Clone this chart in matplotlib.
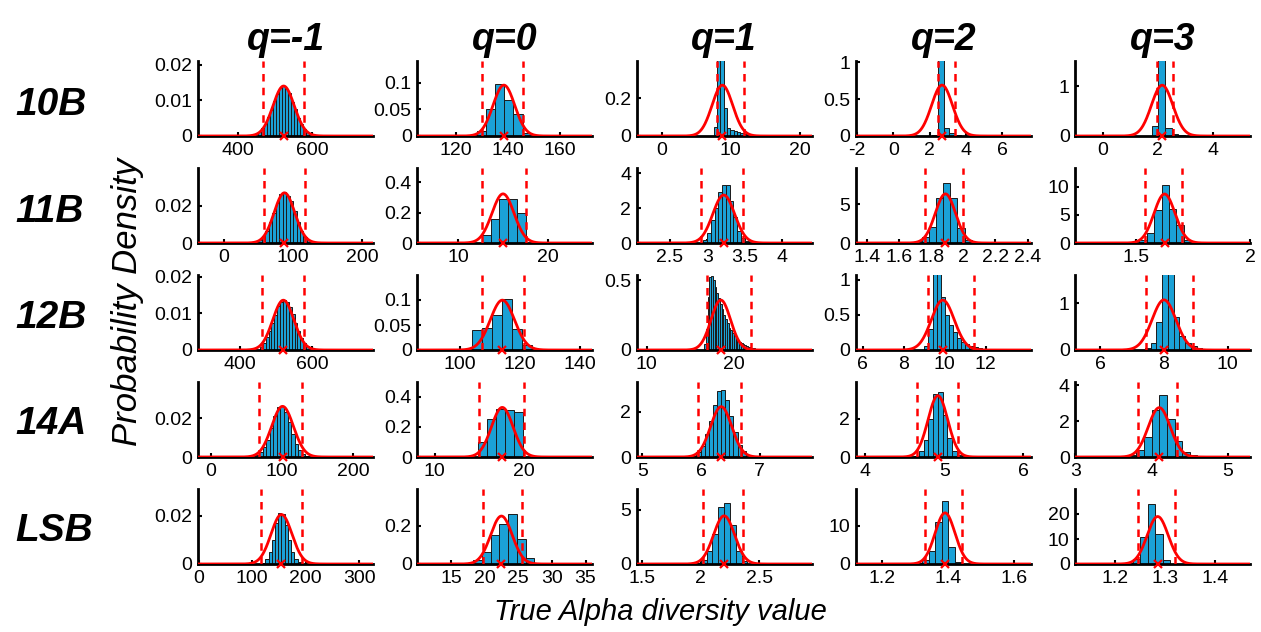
import numpy as np
import matplotlib
matplotlib.use("Agg")
import matplotlib.pyplot as plt

plt.rcParams['font.family'] = ['Liberation Sans', 'DejaVu Sans']

samples = ["10B", "11B", "12B", "14A", "LSB"]
orders = ["q=-1", "q=0", "q=1", "q=2", "q=3"]

# axis limits and ticks, one row per sample, one entry per q
xlims = [
    [(293, 763), (105, 172.5), (-3.6, 21.7), (-2.07, 7.6), (-1.0, 5.36)],
    [(-37.5, 215.6), (5.4, 25), (2.06, 4.39), (1.333, 2.42), (1.234, 2.0)],
    [(283, 769), (86, 144), (8.86, 28.9), (5.66, 14.2), (5.22, 10.7)],
    [(-17.7, 228), (8.07, 27.7), (4.9, 7.88), (3.88, 6.1), (3.0, 5.29)],
    [(-1, 326), (10, 36), (1.45, 2.95), (1.12, 1.65), (1.12, 1.47)],
]
xticks = [
    [[400, 600], [120, 140, 160], [0, 10, 20], [-2, 0, 2, 4, 6], [0, 2, 4]],
    [[0, 100, 200], [10, 20], [2.5, 3, 3.5, 4], [1.4, 1.6, 1.8, 2, 2.2, 2.4], [1.5, 2]],
    [[400, 600], [100, 120, 140], [10, 20], [6, 8, 10, 12], [6, 8, 10]],
    [[0, 100, 200], [10, 20], [5, 6, 7], [4, 5, 6], [3, 4, 5]],
    [[0, 100, 200, 300], [15, 20, 25, 30, 35], [1.5, 2, 2.5], [1.2, 1.4, 1.6], [1.2, 1.3, 1.4]],
]
ytops = [
    [0.021, 0.141, 0.395, 1.02, 1.51],
    [0.040, 0.493, 4.3, 9.7, 13.3],
    [0.0205, 0.15, 0.536, 1.07, 1.6],
    [0.0386, 0.496, 3.3, 3.9, 4.18],
    [0.031, 0.39, 6.9, 19.5, 30],
]
yticks = [
    [[0, 0.01, 0.02], [0, 0.05, 0.1], [0, 0.2], [0, 0.5, 1], [0, 1]],
    [[0, 0.02], [0, 0.2, 0.4], [0, 2, 4], [0, 5], [0, 5, 10]],
    [[0, 0.01, 0.02], [0, 0.05, 0.1], [0, 0.5], [0, 0.5, 1], [0, 1]],
    [[0, 0.02], [0, 0.2, 0.4], [0, 2], [0, 2], [0, 2, 4]],
    [[0, 0.02], [0, 0.2], [0, 5], [0, 10], [0, 10, 20]],
]

# fitted normal (mean, sd) and the 95% interval lines
means = [
    [523, 138.4, 8.8, 2.69, 2.16],
    [87.5, 15.0, 3.22, 1.889, 1.625],
    [520, 114.2, 18.5, 9.9, 8.0],
    [101, 17.6, 6.34, 4.92, 4.1],
    [155, 22.5, 2.2, 1.39, 1.285],
]
sds = [
    [28.5, 4.17, 1.49, 0.576, 0.39],
    [14.9, 1.235, 0.145, 0.0628, 0.0459],
    [29.3, 4.0, 1.117, 0.56, 0.373],
    [15.3, 1.216, 0.18, 0.125, 0.145],
    [19.5, 1.6, 0.09, 0.03, 0.021],
]
ci_lo = [
    [467, 129.8, 8.0, 2.47, 1.97],
    [58, 12.6, 2.92, 1.764, 1.538],
    [460, 107.3, 16.9, 9.2, 7.44],
    [68, 14.95, 5.95, 4.66, 3.82],
    [117, 19.7, 2.02, 1.33, 1.245],
]
ci_hi = [
    [579, 145.9, 11.9, 3.38, 2.57],
    [117, 17.6, 3.47, 2.0, 1.703],
    [578, 121.4, 22.0, 11.4, 8.9],
    [129, 20.0, 6.67, 5.17, 4.33],
    [193, 25.5, 2.36, 1.44, 1.32],
]

# histograms: first bin edge, bin width, density of each bin
bin_start = [
    [455, 127.9, 7.55, 2.16, 1.78],
    [45, 12.6, 2.95, 1.70, 1.515],
    [455, 104.2, 16.6, 9.0, 7.4],
    [63, 14.9, 5.85, 4.62, 3.7],
    [119, 18.3, 1.95, 1.3, 1.22],
]
bin_width = [
    [8, 3.55, 0.48, 0.31, 0.24],
    [5, 1.0, 0.05, 0.044, 0.0324],
    [8, 3.3, 0.2, 0.2, 0.18],
    [5, 1.0, 0.07, 0.06, 0.1],
    [6, 1.3, 0.05, 0.02, 0.015],
]
dens = [
    [
        [0.0010, 0.0022, 0.0033, 0.0054, 0.0073, 0.0099, 0.0118, 0.0134, 0.0139, 0.0133,
         0.0121, 0.0096, 0.0077, 0.0051, 0.0035, 0.0019, 0.0012, 0.0005, 0.0003],
        [0.01, 0.05, 0.097, 0.068, 0.041, 0.005],
        [0.05, 0.6, 0.6, 0.15, 0.04, 0.03, 0.025, 0.02, 0.015, 0.01, 0.005],
        [0.02, 1.2, 0.11, 0.04, 0.01, 0.005],
        [0.2, 2.0, 0.17, 0.05, 0.02],
    ],
    [
        [0.0007, 0.0017, 0.0036, 0.0063, 0.0110, 0.0158, 0.0212, 0.0262, 0.0270, 0.0250,
         0.0225, 0.0170, 0.0112, 0.0066, 0.0034, 0.0016, 0.0007, 0.0003],
        [0.05, 0.16, 0.29, 0.29, 0.195],
        [0.2, 0.6, 1.3, 2.0, 2.9, 3.35, 3.3, 2.4, 1.5, 0.7, 0.3, 0.1],
        [0.3, 0.8, 2.1, 5.8, 7.7, 5.8, 1.9, 0.35],
        [0.6, 1.8, 5.8, 10.3, 6.0, 3.2, 0.5],
    ],
    [
        [0.0009, 0.0020, 0.0035, 0.0052, 0.0075, 0.0097, 0.0120, 0.0131, 0.0137, 0.0132,
         0.0118, 0.0099, 0.0074, 0.0053, 0.0034, 0.0020, 0.0011, 0.0005, 0.0002],
        [0.04, 0.045, 0.07, 0.103, 0.043, 0.01],
        [0.04, 0.15, 0.38, 0.52, 0.53, 0.5, 0.45, 0.41, 0.37, 0.33, 0.29, 0.25, 0.22, 0.19,
         0.16, 0.14, 0.12, 0.1, 0.085, 0.07, 0.06, 0.05, 0.04, 0.035, 0.03, 0.025, 0.02,
         0.015, 0.012, 0.01, 0.008],
        [0.05, 0.3, 1.2, 1.2, 0.75, 0.5, 0.35, 0.25, 0.17, 0.12, 0.08, 0.06, 0.04, 0.03, 0.02],
        [0.05, 0.15, 0.6, 1.7, 1.7, 0.7, 0.3, 0.15, 0.08, 0.05, 0.03],
    ],
    [
        [0.0010, 0.0025, 0.0050, 0.0090, 0.0150, 0.0210, 0.0255, 0.0262, 0.0230, 0.0178,
         0.0118, 0.0068, 0.0034, 0.0015, 0.0006],
        [0.1, 0.25, 0.32, 0.31, 0.3],
        [0.05, 0.2, 0.5, 1.0, 1.6, 2.3, 2.9, 2.95, 2.5, 1.8, 1.1, 0.55, 0.25, 0.08],
        [0.05, 0.3, 0.9, 2.0, 3.3, 3.4, 2.2, 1.0, 0.3, 0.08],
        [0.1, 0.4, 1.1, 2.6, 3.45, 2.1, 0.9, 0.3, 0.1],
    ],
    [
        [0.0005, 0.0020, 0.0050, 0.0100, 0.0170, 0.0210, 0.0205, 0.0160, 0.0100, 0.0050,
         0.0020, 0.0007],
        [0.02, 0.06, 0.15, 0.21, 0.26, 0.13, 0.03],
        [0.1, 0.4, 1.2, 2.8, 5.2, 5.6, 3.6, 1.2, 0.3],
        [0.3, 1.0, 3.5, 11.0, 16.5, 4.5, 0.5],
        [0.5, 2.0, 11.0, 24.0, 12.0, 1.5],
    ],
]

bar_color = '#1ba1d6'

fig = plt.figure(figsize=(12.61, 6.32), dpi=100)
W, H = 1261.0, 632.0

for r in range(5):
    for c in range(5):
        left = 198 + c * 219.3
        base = 136 + r * 107
        ax = fig.add_axes([left / W, (H - base) / H, 175 / W, 75 / H])

        edges = bin_start[r][c] + bin_width[r][c] * np.arange(len(dens[r][c]))
        ax.bar(edges, dens[r][c], width=bin_width[r][c], align='edge',
               color=bar_color, edgecolor='#1a1a1a', linewidth=0.7, zorder=2)

        xs = np.linspace(xlims[r][c][0], xlims[r][c][1], 400)
        pdf = np.exp(-0.5 * ((xs - means[r][c]) / sds[r][c]) ** 2) / (sds[r][c] * np.sqrt(2 * np.pi))
        ax.plot(xs, pdf, color='red', lw=2.0, zorder=4)

        for v in (ci_lo[r][c], ci_hi[r][c]):
            ax.axvline(v, color='red', ls=(0, (3, 2.5)), lw=1.8, zorder=3)
        ax.plot([means[r][c]], [0], marker='x', color='red', ms=6, mew=1.6,
                zorder=5, clip_on=False)

        ax.set_xlim(*xlims[r][c])
        ax.set_ylim(0, ytops[r][c])
        ax.set_xticks(xticks[r][c])
        ax.set_yticks(yticks[r][c])
        ax.set_xticklabels([f"{t:g}" for t in xticks[r][c]])
        ax.set_yticklabels([f"{t:g}" for t in yticks[r][c]])
        ax.tick_params(direction='in', length=3, width=1.5, labelsize=14, pad=4)
        for s in ('top', 'right'):
            ax.spines[s].set_visible(False)
        for s in ('left', 'bottom'):
            ax.spines[s].set_linewidth(2)
        ax.patch.set_alpha(0)

        if r == 0:
            ax.set_title(orders[c], fontsize=27, fontweight='bold', style='italic', pad=8)

for r, name in enumerate(samples):
    fig.text(15 / W, 1 - (105 + r * 106.5) / H, name, fontsize=28, fontweight='bold',
             style='italic', ha='left', va='center')

fig.text(127 / W, 1 - 302 / H, "Probability Density", rotation=90, fontsize=25,
         style='italic', ha='center', va='center')
fig.text(660 / W, 1 - 612 / H, "True Alpha diversity value", fontsize=21,
         style='italic', ha='center', va='center')

fig.savefig("out.png", dpi=100)
